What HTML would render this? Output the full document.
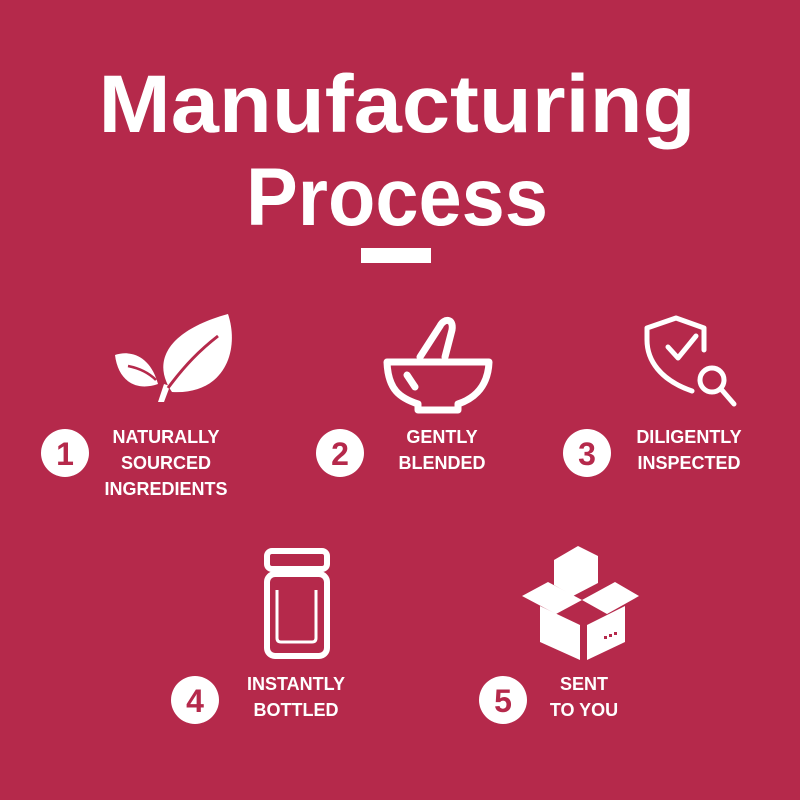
<!DOCTYPE html>
<html><head><style>html,body{margin:0;padding:0;background:#B5294B;}svg{display:block}</style></head>
<body>
<svg width="800" height="800" viewBox="0 0 800 800" xmlns="http://www.w3.org/2000/svg">
<rect width="800" height="800" fill="#B5294B"/>
<g font-family="Liberation Sans, sans-serif" font-weight="bold" fill="#fff" text-anchor="middle">
<text x="397" y="132" font-size="82" textLength="597" lengthAdjust="spacingAndGlyphs">Manufacturing</text>
<text x="397" y="225" font-size="82" textLength="302" lengthAdjust="spacingAndGlyphs">Process</text>
</g>
<rect x="361" y="248" width="70" height="15" fill="#fff"/>

<!-- leaf -->
<g fill="#fff">
<path d="M172 392 C150 360 170 330 228 314 C240 350 225 395 172 392 Z"/>
<path d="M158 384 C150 355 130 350 115 355 C118 380 135 392 158 384 Z"/>
<path d="M158 402 L164 402 L170 386 L164 384 Z"/>
</g>
<path d="M168 388 C185 365 200 350 218 336" stroke="#B5294B" stroke-width="3" fill="none"/>
<path d="M156 380 C148 372 138 368 128 366" stroke="#B5294B" stroke-width="2.5" fill="none"/>

<!-- mortar -->
<g fill="none" stroke="#fff" stroke-width="7" stroke-linejoin="round" stroke-linecap="round">
<path d="M387 362 L489 362 C488 390 470 400 458 404 L458 410 L418 410 L418 404 C400 398 388 390 387 362 Z"/>
<path d="M420 357 L440 326 C444 318 454 318 452 330 L445 357"/>
<path d="M407 375 L415 387"/>
</g>

<!-- shield -->
<g fill="none" stroke="#fff" stroke-width="5" stroke-linejoin="round" stroke-linecap="round">
<path d="M692 391 C660 380 647 360 647 340 L647 328 L676 318 L704 328 L704 350"/>
<path d="M668 347 L678 358 L696 336"/>
<circle cx="712" cy="380" r="12"/>
<path d="M721 389 L734 404"/>
</g>

<!-- bottle -->
<g fill="none" stroke="#fff" stroke-width="6" stroke-linejoin="round">
<rect x="267" y="551" width="60" height="18" rx="5"/>
<rect x="267" y="574" width="60" height="82" rx="8"/>
</g>
<path d="M277 590 L277 638 Q277 642 281 642 L312 642 Q316 642 316 638 L316 590" fill="none" stroke="#fff" stroke-width="3"/>

<!-- box -->
<g fill="#fff">
<path d="M554 560 L578 546 L598 556 L598 583 L573 596 L554 585 Z"/>
<path d="M540 606 L580 625 L580 660 L540 642 Z"/>
<path d="M587 625 L625 606 L625 642 L587 660 Z"/>
<path d="M522 596 L548 582 L582 600 L556 614 Z"/>
<path d="M582 600 L615 582 L639 596 L607 614 Z"/>
</g>
<g fill="#B5294B"><rect x="604" y="636" width="3" height="3"/><rect x="609" y="634" width="3" height="3"/><rect x="614" y="632" width="3" height="3"/></g>

<!-- number circles -->
<g fill="#fff">
<circle cx="65" cy="453" r="24"/><circle cx="340" cy="453" r="24"/><circle cx="587" cy="453" r="24"/>
<circle cx="195" cy="700" r="24"/><circle cx="503" cy="700" r="24"/>
</g>
<g font-family="Liberation Sans, sans-serif" font-weight="bold" fill="#B5294B" text-anchor="middle" font-size="32">
<text x="65" y="465">1</text><text x="340" y="465">2</text><text x="587" y="465">3</text>
<text x="195" y="712">4</text><text x="503" y="712">5</text>
</g>
<g font-family="Liberation Sans, sans-serif" font-weight="bold" fill="#fff" text-anchor="middle" font-size="18">
<text x="166" y="443">NATURALLY</text><text x="166" y="469">SOURCED</text><text x="166" y="495">INGREDIENTS</text>
<text x="442" y="443">GENTLY</text><text x="442" y="469">BLENDED</text>
<text x="689" y="443">DILIGENTLY</text><text x="689" y="469">INSPECTED</text>
<text x="296" y="690">INSTANTLY</text><text x="296" y="716">BOTTLED</text>
<text x="584" y="690">SENT</text><text x="584" y="716">TO YOU</text>
</g>
</svg>
</body></html>
